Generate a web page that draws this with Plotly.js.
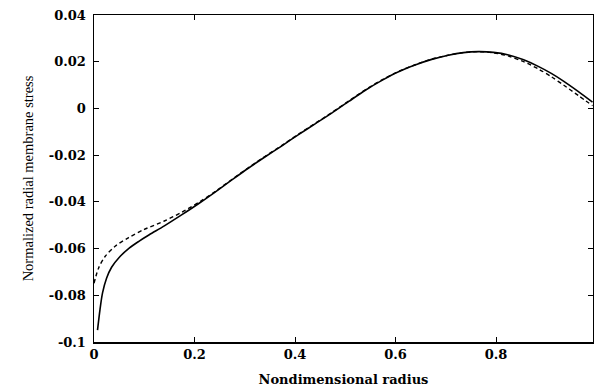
<!DOCTYPE html>
<html>
<head>
<meta charset="utf-8">
<script src="https://cdn.plot.ly/plotly-3.0.1.min.js"></script>
<style>html,body{margin:0;padding:0;background:#fff;}#chart{width:594px;height:392px;}</style>
</head>
<body>
<div id="chart"></div>
<script>
// Solid curve
const solidX = [0.007,0.012,0.017,0.025,0.035,0.05,0.07,0.09,0.11,0.14,0.175,0.21,0.241,0.275,0.307,0.34,0.374,0.407,0.44,0.473,0.507,0.54,0.573,0.606,0.639,0.672,0.705,0.735,0.765,0.795,0.825,0.855,0.885,0.91,0.935,0.964,0.992];
const solidY = [-0.0949,-0.0860,-0.0790,-0.0727,-0.0680,-0.0638,-0.0598,-0.0568,-0.0541,-0.0503,-0.0455,-0.0405,-0.0358,-0.0305,-0.0256,-0.0208,-0.0160,-0.0112,-0.0066,-0.0020,0.0030,0.0078,0.0120,0.0157,0.0186,0.0210,0.0228,0.0239,0.0243,0.0240,0.0229,0.0208,0.0179,0.0150,0.0116,0.0072,0.0027];
// Dashed curve
const dashX = [0.000,0.009,0.022,0.042,0.069,0.10,0.14,0.175,0.21,0.241,0.275,0.307,0.34,0.374,0.407,0.44,0.473,0.507,0.54,0.573,0.606,0.639,0.672,0.705,0.735,0.765,0.795,0.825,0.855,0.885,0.91,0.935,0.964,0.992];
const dashY = [-0.0749,-0.0684,-0.0634,-0.0590,-0.0553,-0.0518,-0.0482,-0.0444,-0.0400,-0.0356,-0.0303,-0.0254,-0.0206,-0.0158,-0.0110,-0.0064,-0.0018,0.0032,0.0080,0.0122,0.0158,0.0187,0.0211,0.0228,0.0239,0.0243,0.0238,0.0224,0.0200,0.0168,0.0136,0.0099,0.0055,0.0012];
// Tick labels
const xTickVals = [0,0.2,0.4,0.6,0.8];
const xTickText = ["0","0.2","0.4","0.6","0.8"];
const yTickVals = [-0.1,-0.08,-0.06,-0.04,-0.02,0,0.02,0.04];
const yTickText = ["-0.1","-0.08","-0.06","-0.04","-0.02","0","0.02","0.04"];

const tickFont = {family:"DejaVu Serif", size:13, color:"#000", weight:"bold"};

const traces = [
  {x: solidX, y: solidY, mode:"lines", line:{color:"#000", width:1.6, shape:"spline", smoothing:0.8}, showlegend:false},
  {x: dashX, y: dashY, mode:"lines", line:{color:"#000", width:1.4, dash:"4px,3px", shape:"spline", smoothing:0.8}, showlegend:false}
];

const layout = {
  width:594, height:392,
  margin:{l:94, r:1, t:15, b:50},
  paper_bgcolor:"#fff", plot_bgcolor:"#fff",
  xaxis:{
    range:[0,0.993], tickvals:xTickVals, ticktext:xTickText,
    showline:true, mirror:"ticks", linecolor:"#000", linewidth:1.5,
    ticks:"inside", ticklen:5, tickcolor:"#000", tickwidth:1,
    showgrid:false, zeroline:false, tickfont:tickFont,
    title:{text:"Nondimensional radius", font:{family:"DejaVu Serif", size:13, color:"#000", weight:"bold"}, standoff:14}
  },
  yaxis:{
    range:[-0.1,0.04], tickvals:yTickVals, ticktext:yTickText,
    showline:true, mirror:"ticks", linecolor:"#000", linewidth:1.5,
    ticks:"inside", ticklen:5, tickcolor:"#000", tickwidth:1,
    showgrid:false, zeroline:false, tickfont:tickFont, ticklabelstandoff:4,
    title:{text:"Normalized radial membrane stress", font:{family:"Liberation Serif", size:14.5, color:"#000"}, standoff:12}
  }
};

Plotly.newPlot("chart", traces, layout, {staticPlot:true, displayModeBar:false});
</script>
</body>
</html>
